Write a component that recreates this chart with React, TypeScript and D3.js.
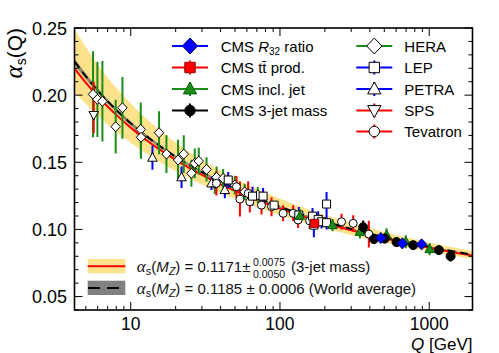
import React from "react";
import * as d3 from "d3";

const W = 499, H = 353;
const PL = 74.5, PR = 472.5, PT = 28, PB = 310;

const xDomain = [4.2, 1950];
const yDomain = [0.04, 0.25];
const xMajor = [10, 100, 1000];
const xMinor = [5, 6, 7, 8, 9, 20, 30, 40, 50, 60, 70, 80, 90, 200, 300, 400, 500, 600, 700, 800, 900];
const yMajor = [0.05, 0.1, 0.15, 0.2, 0.25];
const yMajorLabels = ["0.05", "0.10", "0.15", "0.20", "0.25"];
const yMinor = [0.04, 0.06, 0.07, 0.08, 0.09, 0.11, 0.12, 0.13, 0.14, 0.16, 0.17, 0.18, 0.19, 0.21, 0.22, 0.23, 0.24];

// running-coupling curves
const curveQ = [4.2, 5, 6, 7, 8, 10, 12, 15, 20, 25, 30, 40, 50, 70, 100, 150, 200, 300, 500, 700, 1000, 1500, 1950];
const fitCentral = [0.2199, 0.2093, 0.1992, 0.1915, 0.1853, 0.1758, 0.1687, 0.1609, 0.1518, 0.1454, 0.1406, 0.1336, 0.1287, 0.1219, 0.1155, 0.109, 0.1048, 0.0994, 0.0934, 0.0899, 0.0864, 0.0827, 0.0805];
const fitUpper = [0.2494, 0.2356, 0.2229, 0.2132, 0.2054, 0.1937, 0.1851, 0.1757, 0.1648, 0.1573, 0.1517, 0.1436, 0.1379, 0.1301, 0.1228, 0.1154, 0.1108, 0.1048, 0.0981, 0.0942, 0.0903, 0.0863, 0.0839];
const fitLower = [0.2024, 0.1934, 0.1848, 0.1782, 0.1728, 0.1645, 0.1584, 0.1514, 0.1434, 0.1377, 0.1334, 0.1271, 0.1227, 0.1165, 0.1106, 0.1047, 0.1008, 0.0958, 0.0902, 0.0869, 0.0836, 0.0802, 0.0781];
const worldCentral = [0.2251, 0.214, 0.2035, 0.1954, 0.1889, 0.179, 0.1717, 0.1636, 0.1541, 0.1476, 0.1426, 0.1355, 0.1304, 0.1235, 0.1169, 0.1102, 0.1059, 0.1004, 0.0943, 0.0907, 0.0871, 0.0834, 0.0812];
const worldUpper = [0.2273, 0.216, 0.2053, 0.197, 0.1904, 0.1804, 0.173, 0.1647, 0.1551, 0.1485, 0.1435, 0.1363, 0.1311, 0.1242, 0.1175, 0.1107, 0.1064, 0.1008, 0.0947, 0.0911, 0.0874, 0.0837, 0.0815];
const worldLower = [0.2229, 0.212, 0.2017, 0.1938, 0.1874, 0.1776, 0.1704, 0.1625, 0.1531, 0.1467, 0.1417, 0.1347, 0.1297, 0.1228, 0.1163, 0.1097, 0.1054, 0.1, 0.0939, 0.0903, 0.0868, 0.0831, 0.0809];

// measurements
const heraQ = [5.59, 5.98, 6.46, 7.93, 8.8, 11.67, 11.72, 15.48, 17.35, 20.75, 22.66, 25.5, 26.86, 28.57, 32.2, 36.6, 37.6, 41.6, 49.8, 58.0, 71.0];
const heraA = [0.2006, 0.1969, 0.1954, 0.1765, 0.1906, 0.1745, 0.1686, 0.172, 0.1561, 0.1517, 0.1561, 0.1418, 0.1492, 0.1509, 0.1447, 0.1343, 0.1388, 0.138, 0.133, 0.128, 0.1256];
const heraE = [0.032, 0.028, 0.03, 0.02, 0.023, 0.02, 0.016, 0.016, 0.014, 0.015, 0.014, 0.01, 0.011, 0.01, 0.009, 0.008, 0.008, 0.007, 0.007, 0.006, 0.006];

const lepQ = [45.0, 65.5, 77.1, 91.4, 133.8, 165.3, 168.7, 180.3, 189.9, 205.2, 205.2];
const lepA = [0.1368, 0.1248, 0.1248, 0.1181, 0.1107, 0.1099, 0.1032, 0.1075, 0.1057, 0.1189, 0.105];
const lepE = [0.006, 0.007, 0.006, 0.003, 0.006, 0.006, 0.009, 0.006, 0.005, 0.009, 0.005];

const petraQ = [13.98, 21.9, 34.8, 42.7];
const petraA = [0.1534, 0.1388, 0.1343, 0.1293];
const petraE = [0.009, 0.008, 0.005, 0.006];

const spsQ = [5.65];
const spsA = [0.1852];
const spsEUp = [0.0248];
const spsEDn = [0.0136];

const tevQ = [37.5, 51.1, 53.9, 61.2, 62.8, 75.2, 87.8, 105, 122.6, 132.3, 158, 258.6, 309.4, 394];
const tevA = [0.1343, 0.1318, 0.1226, 0.1268, 0.1206, 0.1181, 0.1169, 0.112, 0.112, 0.107, 0.1064, 0.1057, 0.1045, 0.0965];
const tevE = [0.009, 0.008, 0.013, 0.009, 0.008, 0.007, 0.007, 0.006, 0.006, 0.006, 0.006, 0.006, 0.006, 0.01];

const cmsTtQ = [171];
const cmsTtA = [0.1045];
const cmsTtE = [0.003];

const cmsJetQ = [136, 225, 343, 518, 697, 1006];
const cmsJetA = [0.1102, 0.1032, 0.0982, 0.0958, 0.0908, 0.0853];
const cmsJetE = [0.005, 0.0045, 0.005, 0.005, 0.0048, 0.0045];

const cms3jQ = [361, 426, 504, 604, 781, 1161, 1391];
const cms3jA = [0.1017, 0.0928, 0.0932, 0.0906, 0.0883, 0.0846, 0.0801];
const cms3jE = [0.005, 0.0035, 0.0035, 0.0035, 0.003, 0.0035, 0.004];

const cmsR32Q = [474, 661, 889];
const cmsR32A = [0.0936, 0.0896, 0.0889];
const cmsR32E = [0.003, 0.0025, 0.0025];

const BLUE = "#0000ff", RED = "#ff0000", GREEN = "#1a8c1a";
const SANS = "'Liberation Sans', Arial, Helvetica, sans-serif";
const SERIF = "'Liberation Serif', 'Times New Roman', serif";

type Shape = "diamond" | "square" | "circle" | "tri" | "tridown";

function markerPath(shape: Shape, cx: number, cy: number, s: number): string {
  switch (shape) {
    case "diamond":
      return `M${cx},${cy - s}L${cx + s * 0.95},${cy}L${cx},${cy + s}L${cx - s * 0.95},${cy}Z`;
    case "square":
      return `M${cx - s * 0.8},${cy - s * 0.8}h${s * 1.6}v${s * 1.6}h${-s * 1.6}Z`;
    case "tri":
      return `M${cx},${cy - s}L${cx + s * 0.95},${cy + s * 0.7}L${cx - s * 0.95},${cy + s * 0.7}Z`;
    case "tridown":
      return `M${cx},${cy + s}L${cx + s * 0.95},${cy - s * 0.7}L${cx - s * 0.95},${cy - s * 0.7}Z`;
    default: {
      const p = d3.path();
      p.arc(cx, cy, s * 0.8, 0, Math.PI * 2);
      return p.toString();
    }
  }
}

interface Group {
  q: number[]; a: number[]; eu: number[]; ed: number[];
  shape: Shape; fill: string; stroke: string; bar: string; size: number;
}

const groups: Group[] = [
  { q: heraQ, a: heraA, eu: heraE, ed: heraE, shape: "diamond", fill: "#fff", stroke: "#000", bar: GREEN, size: 5 },
  { q: petraQ, a: petraA, eu: petraE, ed: petraE, shape: "tri", fill: "#fff", stroke: "#000", bar: BLUE, size: 5 },
  { q: spsQ, a: spsA, eu: spsEUp, ed: spsEDn, shape: "tridown", fill: "#fff", stroke: "#000", bar: RED, size: 5 },
  { q: tevQ, a: tevA, eu: tevE, ed: tevE, shape: "circle", fill: "#fff", stroke: "#000", bar: RED, size: 5 },
  { q: lepQ, a: lepA, eu: lepE, ed: lepE, shape: "square", fill: "#fff", stroke: "#000", bar: BLUE, size: 5 },
  { q: cmsTtQ, a: cmsTtA, eu: cmsTtE, ed: cmsTtE, shape: "square", fill: RED, stroke: "#900", bar: RED, size: 5 },
  { q: cmsJetQ, a: cmsJetA, eu: cmsJetE, ed: cmsJetE, shape: "tri", fill: GREEN, stroke: "#0a5a0a", bar: GREEN, size: 5 },
  { q: cms3jQ, a: cms3jA, eu: cms3jE, ed: cms3jE, shape: "circle", fill: "#000", stroke: "#000", bar: "#000", size: 5.6 },
  { q: cmsR32Q, a: cmsR32A, eu: cmsR32E, ed: cmsR32E, shape: "diamond", fill: BLUE, stroke: "#000080", bar: BLUE, size: 5.5 },
];

const legendLeft = [
  { label: "CMS R32 ratio", shape: "diamond" as Shape, fill: BLUE, stroke: "#000080", color: BLUE, size: 8 },
  { label: "CMS tt prod.", shape: "square" as Shape, fill: RED, stroke: "#900", color: RED, size: 6.5 },
  { label: "CMS incl. jet", shape: "tri" as Shape, fill: GREEN, stroke: "#0a5a0a", color: GREEN, size: 7 },
  { label: "CMS 3-jet mass", shape: "circle" as Shape, fill: "#000", stroke: "#000", color: "#000", size: 6.5 },
];
const legendRight = [
  { label: "HERA", shape: "diamond" as Shape, fill: "#fff", stroke: "#000", color: GREEN, size: 8 },
  { label: "LEP", shape: "square" as Shape, fill: "#fff", stroke: "#000", color: BLUE, size: 6.5 },
  { label: "PETRA", shape: "tri" as Shape, fill: "#fff", stroke: "#000", color: BLUE, size: 7 },
  { label: "SPS", shape: "tridown" as Shape, fill: "#fff", stroke: "#000", color: RED, size: 7 },
  { label: "Tevatron", shape: "circle" as Shape, fill: "#fff", stroke: "#000", color: RED, size: 6.5 },
];
const legendRowY = [46, 67.5, 89, 110.5, 131.5];

function LegendLabel({ label }: { label: string }) {
  if (label === "CMS R32 ratio") {
    return (
      <>
        <tspan>CMS </tspan>
        <tspan fontStyle="italic">R</tspan>
        <tspan fontSize={10} dy={3}>32</tspan>
        <tspan dy={-3}> ratio</tspan>
      </>
    );
  }
  if (label === "CMS tt prod.") {
    return <tspan>{"CMS t\u0074\u0304 prod."}</tspan>;
  }
  return <tspan>{label}</tspan>;
}

export default function App() {
  const x = d3.scaleLog().domain(xDomain).range([PL, PR]);
  const y = d3.scaleLinear().domain(yDomain).range([PB, PT]);

  const band = (lo: number[], hi: number[]) =>
    d3.area<number>()
      .x((d) => x(d))
      .y0((_, i) => y(lo[i]))
      .y1((_, i) => y(hi[i]))
      .curve(d3.curveMonotoneX)(curveQ) || "";
  const line = (v: number[]) =>
    d3.line<number>()
      .x((d) => x(d))
      .y((_, i) => y(v[i]))
      .curve(d3.curveMonotoneX)(curveQ) || "";

  const tickStroke = { stroke: "#000", strokeWidth: 1 };

  return (
    <svg width={W} height={H} style={{ position: "absolute", left: 0, top: 0, background: "#fff" }} fontFamily={SANS}>
      <defs>
        <clipPath id="plotclip">
          <rect x={PL} y={PT} width={PR - PL} height={PB - PT} />
        </clipPath>
      </defs>
      <rect x={0} y={0} width={W} height={H} fill="#fff" />

      <g clipPath="url(#plotclip)">
        <path d={band(fitLower, fitUpper)} fill="#fde28c" />
        <path d={band(worldLower, worldUpper)} fill="#555" fillOpacity={0.65} />
        <path d={line(fitCentral)} fill="none" stroke={RED} strokeWidth={2} />
        <path d={line(worldCentral)} fill="none" stroke="#000" strokeWidth={2} strokeDasharray="8,5" />

        {groups.map((g, gi) => (
          <g key={"bars" + gi}>
            {g.q.map((q, i) => (
              <line key={i} x1={x(q)} x2={x(q)} y1={y(g.a[i] + g.eu[i])} y2={y(g.a[i] - g.ed[i])} stroke={g.bar} strokeWidth={2} />
            ))}
          </g>
        ))}
        {groups.map((g, gi) => (
          <g key={"marks" + gi}>
            {g.q.map((q, i) => (
              <path key={i} d={markerPath(g.shape, x(q), y(g.a[i]), g.size)} fill={g.fill} stroke={g.stroke} strokeWidth={1} />
            ))}
          </g>
        ))}
      </g>

      {/* frame */}
      <rect x={PL} y={PT} width={PR - PL} height={PB - PT} fill="none" stroke="#000" strokeWidth={1.6} />

      {/* x ticks */}
      {xMajor.map((t) => (
        <g key={"xM" + t}>
          <line x1={x(t)} x2={x(t)} y1={PB} y2={PB - 8} {...tickStroke} />
          <line x1={x(t)} x2={x(t)} y1={PT} y2={PT + 8} {...tickStroke} />
          <text x={x(t)} y={330} textAnchor="middle" fontSize={17.5}>{t}</text>
        </g>
      ))}
      {xMinor.map((t) => (
        <g key={"xm" + t}>
          <line x1={x(t)} x2={x(t)} y1={PB} y2={PB - 4} {...tickStroke} />
          <line x1={x(t)} x2={x(t)} y1={PT} y2={PT + 4} {...tickStroke} />
        </g>
      ))}
      {/* y ticks */}
      {yMajor.map((t, i) => (
        <g key={"yM" + t}>
          <line x1={PL} x2={PL + 8} y1={y(t)} y2={y(t)} {...tickStroke} />
          <line x1={PR} x2={PR - 8} y1={y(t)} y2={y(t)} {...tickStroke} />
          <text x={67} y={y(t) + 6.5} textAnchor="end" fontSize={18}>{yMajorLabels[i]}</text>
        </g>
      ))}
      {yMinor.map((t) => (
        <g key={"ym" + t}>
          <line x1={PL} x2={PL + 4} y1={y(t)} y2={y(t)} {...tickStroke} />
          <line x1={PR} x2={PR - 4} y1={y(t)} y2={y(t)} {...tickStroke} />
        </g>
      ))}

      {/* axis titles */}
      <text transform="translate(22,28) rotate(-90)" textAnchor="end" fontSize={21}>
        <tspan fontFamily={SERIF} fontStyle="italic" fontSize={25}>α</tspan>
        <tspan fontSize={14} dy={4}>s</tspan>
        <tspan dy={-4}>(Q)</tspan>
      </text>
      <text x={472.5} y={350} textAnchor="end" fontSize={17}>
        <tspan fontStyle="italic">Q</tspan>
        <tspan> [GeV]</tspan>
      </text>

      {/* top legends */}
      {legendLeft.map((e, i) => {
        const cy = legendRowY[i];
        const cx = 190;
        return (
          <g key={"ll" + i}>
            <line x1={cx - 18} x2={cx + 18} y1={cy} y2={cy} stroke={e.color} strokeWidth={2} />
            <line x1={cx} x2={cx} y1={cy - 7} y2={cy + 7} stroke={e.color} strokeWidth={2} />
            <path d={markerPath(e.shape, cx, cy, e.size)} fill={e.fill} stroke={e.stroke} strokeWidth={1} />
            <text x={220.7} y={cy + 5.5} fontSize={15}><LegendLabel label={e.label} /></text>
          </g>
        );
      })}
      {legendRight.map((e, i) => {
        const cy = legendRowY[i];
        const cx = 374.3;
        return (
          <g key={"lr" + i}>
            <line x1={cx - 18} x2={cx + 18} y1={cy} y2={cy} stroke={e.color} strokeWidth={2} />
            <line x1={cx} x2={cx} y1={cy - 7} y2={cy + 7} stroke={e.color} strokeWidth={2} />
            <path d={markerPath(e.shape, cx, cy, e.size)} fill={e.fill} stroke={e.stroke} strokeWidth={1} />
            <text x={404.3} y={cy + 5.5} fontSize={15}><LegendLabel label={e.label} /></text>
          </g>
        );
      })}

      {/* bottom legend */}
      <rect x={87.7} y={259} width={37.6} height={14.3} fill="#fde28c" />
      <line x1={87.7} x2={125.3} y1={266.2} y2={266.2} stroke={RED} strokeWidth={2} />
      <rect x={87.7} y={280.7} width={37.6} height={14.3} fill="#555" fillOpacity={0.75} />
      <line x1={88} x2={125.3} y1={288} y2={288} stroke="#000" strokeWidth={2} strokeDasharray="12,7" />

      <text x={136.7} y={271.5} fontSize={15} fill="#111">
        <tspan fontFamily={SERIF} fontStyle="italic" fontSize={17}>α</tspan>
        <tspan fontSize={11} dy={3}>s</tspan>
        <tspan dy={-3}>(</tspan>
        <tspan fontStyle="italic">M</tspan>
        <tspan fontSize={11} fontStyle="italic" dy={3}>Z</tspan>
        <tspan dy={-3}>{") = 0.1171±"}</tspan>
      </text>
      <text x={253} y={266} fontSize={10.5} fill="#111">0.0075</text>
      <text x={253} y={278} fontSize={10.5} fill="#111">0.0050</text>
      <text x={291} y={271.5} fontSize={15} fill="#111">(3-jet mass)</text>

      <text x={136.7} y={293.5} fontSize={15} fill="#111">
        <tspan fontFamily={SERIF} fontStyle="italic" fontSize={17}>α</tspan>
        <tspan fontSize={11} dy={3}>s</tspan>
        <tspan dy={-3}>(</tspan>
        <tspan fontStyle="italic">M</tspan>
        <tspan fontSize={11} fontStyle="italic" dy={3}>Z</tspan>
        <tspan dy={-3}>{") = 0.1185 ± 0.0006 (World average)"}</tspan>
      </text>
    </svg>
  );
}
